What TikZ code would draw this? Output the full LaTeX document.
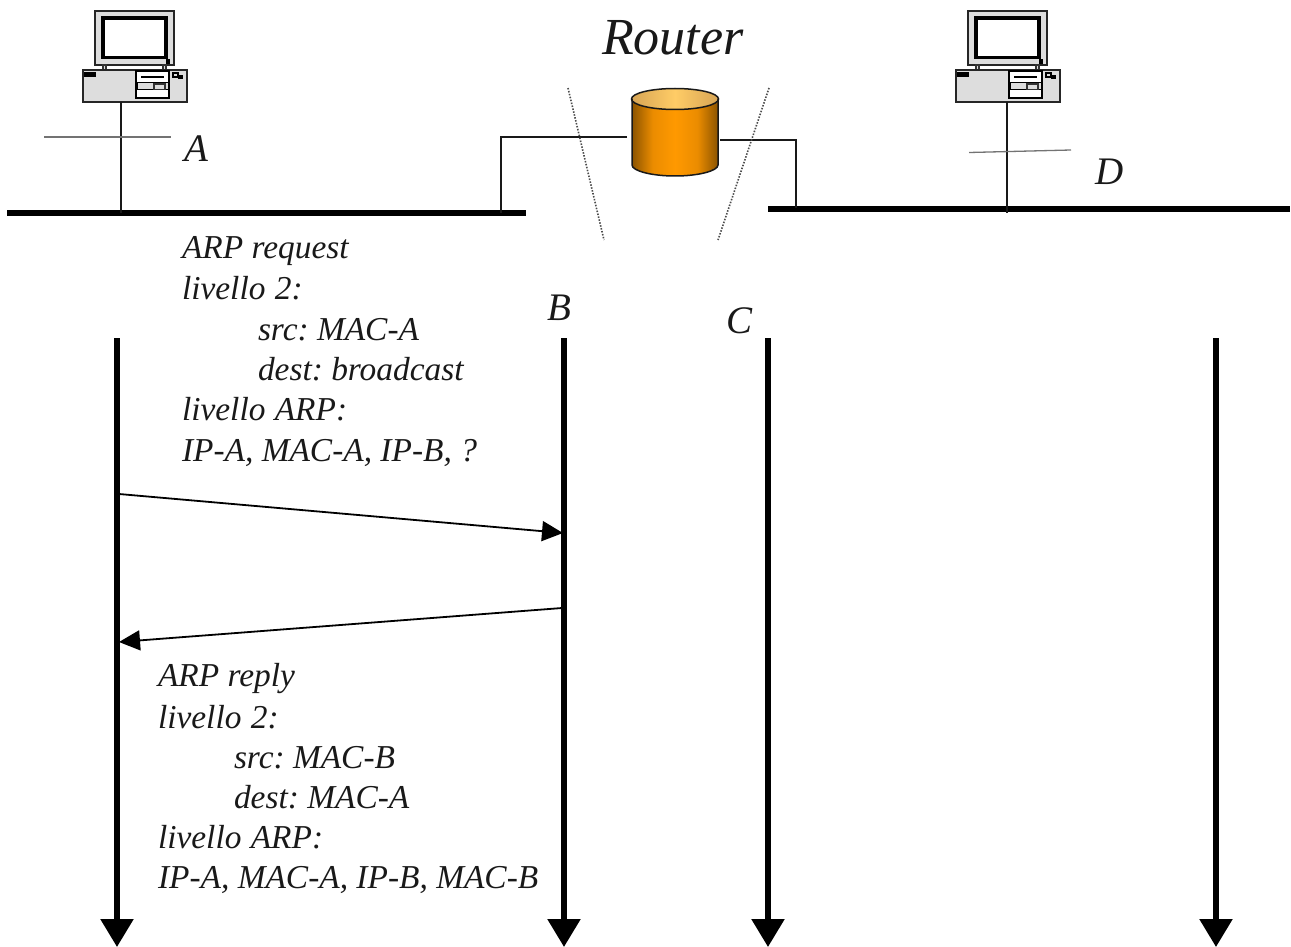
\documentclass[tikz,border=0pt]{standalone}
\usepackage{fontspec}
\setmainfont{Liberation Serif}
\usetikzlibrary{arrows.meta}
\definecolor{pcgray}{RGB}{221,221,221}
\definecolor{rtdark}{RGB}{140,84,0}
\definecolor{rtmid}{RGB}{235,140,0}
\definecolor{rtorange}{RGB}{255,153,0}
\definecolor{rtlidd}{RGB}{215,165,85}
\definecolor{rtlidl}{RGB}{255,204,102}
\pgfdeclarehorizontalshading{rtbody}{100bp}{
  color(0bp)=(rtdark);
  color(25bp)=(rtdark);
  color(37bp)=(rtmid);
  color(50bp)=(rtorange);
  color(63bp)=(rtmid);
  color(75bp)=(rtdark);
  color(100bp)=(rtdark)}
\pgfdeclarehorizontalshading{rtlid}{100bp}{
  color(0bp)=(rtlidd);
  color(25bp)=(rtlidd);
  color(50bp)=(rtlidl);
  color(75bp)=(rtlidd);
  color(100bp)=(rtlidd)}
\tikzset{
  x=1pt,y=-1pt,
  lbl/.style={anchor=base west,inner sep=0pt,outer sep=0pt,font=\fontsize{33.4}{36}\selectfont\itshape,text=black!90},
  letter/.style={anchor=base west,inner sep=0pt,outer sep=0pt,font=\fontsize{39}{44}\selectfont\itshape,text=black!90},
  title/.style={anchor=base west,inner sep=0pt,outer sep=0pt,font=\fontsize{52}{54}\selectfont\itshape,text=black!90},
  bus/.style={line width=5.5pt,black},
  wire/.style={line width=2pt,black!90},
  tick/.style={line width=1.3pt,black!55},
  boundary/.style={line width=1.6pt,black!70,dash pattern=on 1.5pt off 1.5pt},
  timeline/.style={line width=5.5pt,black,-{Triangle[length=28pt,width=32pt]}},
  msg/.style={line width=1.8pt,black,-{Triangle[length=21pt,width=20pt]}},
  pc/.pic={
    \draw[line width=1.5pt,black!85,fill=pcgray] (95,11) rectangle (174,65);
    \draw[line width=3.5pt,black,fill=white] (103,18) rectangle (166,57.5);
    \fill[black] (166,59) rectangle (170,64);
    \draw[line width=1.2pt,black!80,fill=pcgray] (103,65) rectangle (106,70);
    \draw[line width=1.2pt,black!80,fill=pcgray] (163,65) rectangle (166,70);
    \draw[line width=1.5pt,black!85,fill=pcgray] (83,70) rectangle (187,102);
    \fill[black] (84,72) rectangle (96,77);
    \draw[line width=1.2pt,black,fill=white] (136,71) rectangle (169,98);
    \draw[line width=1.5pt,black] (141,77) -- (164,77);
    \draw[line width=1pt,black,fill=pcgray] (137,83) rectangle (168,90);
    \draw[line width=1.5pt,black!80,fill=pcgray] (154,84) rectangle (165,89.5);
    \draw[line width=1.5pt,black] (173,73) rectangle (178,77);
    \fill[black] (178,75) rectangle (183,79);
  }
}
\begin{document}
\begin{tikzpicture}
\useasboundingbox (0,0) rectangle (1291,947);

% computers
\pic at (0,0) {pc};
\pic at (873,0) {pc};

% named anchors
\coordinate (pcA) at (121,102);
\coordinate (pcD) at (1007,102);
\coordinate (busAl) at (7,213);
\coordinate (busAr) at (526,213);
\coordinate (busDl) at (768,209);
\coordinate (busDr) at (1290,209);
\coordinate (tapA) at (121,213);
\coordinate (tapD) at (1007,213);
\coordinate (tapL) at (500.5,213);
\coordinate (tapR) at (796,208);
\coordinate (cornerL) at (500.5,137.5);
\coordinate (cornerR) at (796,140);
\coordinate (rtL) at (627,137.5);
\coordinate (rtR) at (720,140);

% router
\path[shading=rtbody]
  (632,99) -- (632,165) .. controls (632,171) and (652,176) .. (675,176)
  .. controls (698,176) and (718,171) .. (718,165) -- (718,99) -- cycle;
\path[shading=rtlid]
  (675,99) ellipse[x radius=43.5,y radius=10.5];
\draw[line width=1.5pt,black!90]
  (632,99) -- (632,165) .. controls (632,171) and (652,176) .. (675,176)
  .. controls (698,176) and (718,171) .. (718,165) -- (718,99);
\draw[line width=1.5pt,black!90] (675,99) ellipse[x radius=43.5,y radius=10.5];

% buses and wires
\draw[bus] (busAl) -- (busAr);
\draw[bus] (busDl) -- (busDr);
\draw[wire] (pcA) -- (tapA);
\draw[wire] (pcD) -- (tapD);
\draw[wire] (rtL) -- (cornerL) -- (tapL);
\draw[wire] (rtR) -- (cornerR) -- (tapR);

% ticks
\coordinate (tickAl) at (44,137);
\coordinate (tickAr) at (171,137);
\coordinate (tickDl) at (969,152.5);
\coordinate (tickDr) at (1071,150);
\draw[tick] (tickAl) -- (tickAr);
\draw[tick] (tickDl) -- (tickDr);

% boundaries
\coordinate (bLt) at (568,88);
\coordinate (bLb) at (604,240);
\coordinate (bRt) at (769,88);
\coordinate (bRb) at (718,240);
\draw[boundary] (bLt) -- (bLb);
\draw[boundary] (bRt) -- (bRb);

% timelines
\coordinate (tAt) at (117,338);
\coordinate (tAb) at (117,947);
\coordinate (tBt) at (564,338);
\coordinate (tBb) at (564,947);
\coordinate (tCt) at (768,338);
\coordinate (tCb) at (768,947);
\coordinate (tDt) at (1216,338);
\coordinate (tDb) at (1216,947);
\draw[timeline] (tAt) -- (tAb);
\draw[timeline] (tBt) -- (tBb);
\draw[timeline] (tCt) -- (tCb);
\draw[timeline] (tDt) -- (tDb);

% messages
\coordinate (m1s) at (119,494);
\coordinate (m1e) at (563,533);
\coordinate (m2s) at (562,608);
\coordinate (m2e) at (119,642);
\draw[msg] (m1s) -- (m1e);
\draw[msg] (m2s) -- (m2e);

% letters
\node[title] (router) at (602,55) {Router};
\node[letter] (la) at (184,161) {A};
\node[letter] (ld) at (1095,185) {D};
\node[letter] (lb) at (547,320) {B};
\node[letter] (lc) at (726,333) {C};

% request text
\node[lbl] (q1) at (182,258) {ARP request};
\node[lbl] (q2) at (182,299) {livello\ \hspace{1pt}2:};
\node[lbl] (q3) at (258,340) {src:\ MAC-A};
\node[lbl] (q4) at (258,380) {dest:\ broadcast};
\node[lbl] (q5) at (182,420) {livello\ \hspace{1pt}ARP:};
\node[lbl] (q6) at (182,461) {IP-A, MAC-A, IP-B, ?};

% reply text
\node[lbl] (r1) at (158,686) {ARP reply};
\node[lbl] (r2) at (158,728) {livello\ \hspace{1pt}2:};
\node[lbl] (r3) at (234,768) {src:\ MAC-B};
\node[lbl] (r4) at (234,808) {dest:\ MAC-A};
\node[lbl] (r5) at (158,848) {livello\ \hspace{1pt}ARP:};
\node[lbl] (r6) at (158,888) {IP-A, MAC-A, IP-B, MAC-B};
\end{tikzpicture}
\end{document}
